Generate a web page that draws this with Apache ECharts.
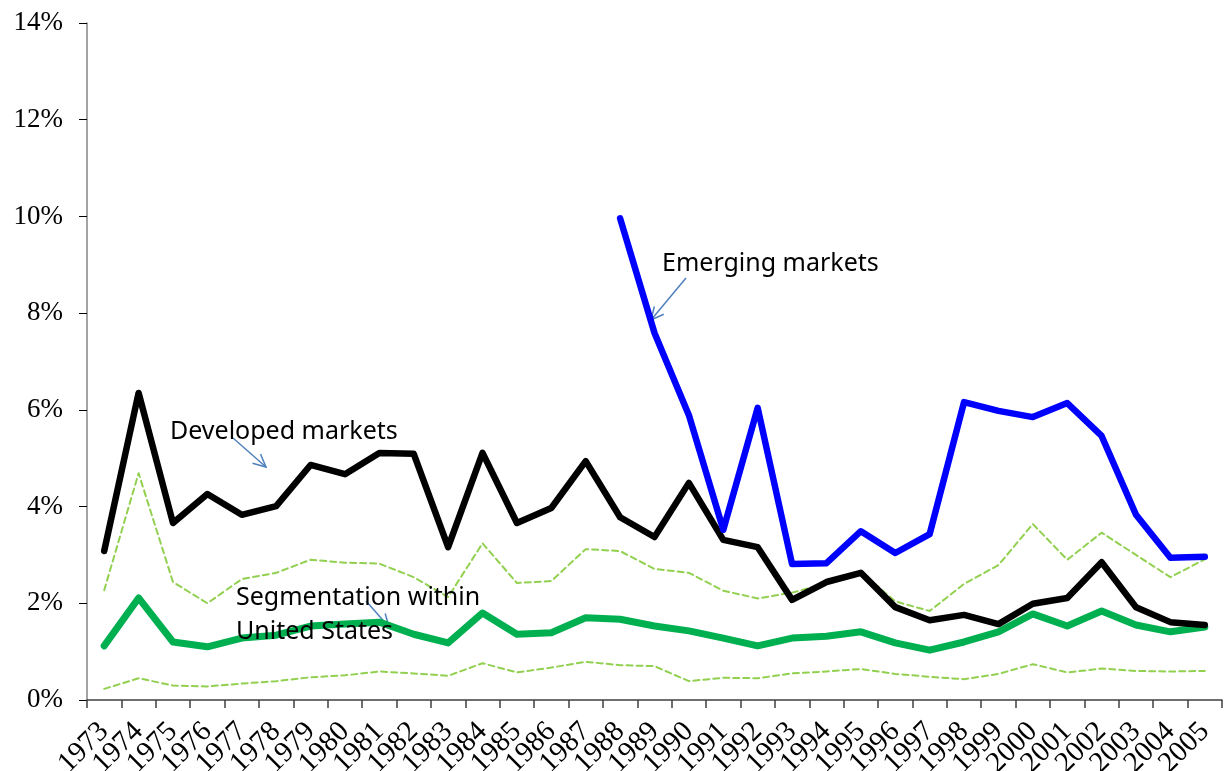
<!DOCTYPE html>
<html>
<head>
<meta charset="utf-8">
<script src="https://cdn.jsdelivr.net/npm/echarts@6/dist/echarts.min.js"></script>
<style>
  html, body { margin: 0; padding: 0; background: #fff; }
  #chart { width: 1224px; height: 771px; }
</style>
</head>
<body>
<div id="chart"></div>
<script>
// years on the x axis
const years = [];
for (let y = 1973; y <= 2005; y++) years.push(String(y));

// values in percent
const developed = [3.08, 6.35, 3.66, 4.26, 3.83, 4.01, 4.86, 4.67, 5.11, 5.09, 3.16,
  5.11, 3.66, 3.97, 4.94, 3.78, 3.37, 4.49, 3.31, 3.16, 2.07, 2.44, 2.63, 1.92,
  1.65, 1.76, 1.57, 1.99, 2.11, 2.85, 1.92, 1.61, 1.55];

const emerging = [null, null, null, null, null, null, null, null, null, null, null,
  null, null, null, null, 9.96, 7.59, 5.89, 3.52, 6.04, 2.81, 2.83, 3.49, 3.04,
  3.43, 6.16, 5.98, 5.85, 6.14, 5.46, 3.83, 2.94, 2.96];

const segmentation = [1.12, 2.11, 1.20, 1.10, 1.28, 1.34, 1.53, 1.57, 1.61, 1.36, 1.18,
  1.80, 1.36, 1.39, 1.70, 1.67, 1.53, 1.43, 1.28, 1.12, 1.28, 1.32, 1.41, 1.18,
  1.03, 1.20, 1.41, 1.78, 1.53, 1.84, 1.55, 1.41, 1.51];

const segUpper = [2.27, 4.69, 2.44, 2.00, 2.50, 2.63, 2.90, 2.84, 2.82, 2.54, 2.13,
  3.24, 2.42, 2.46, 3.12, 3.08, 2.71, 2.63, 2.26, 2.10, 2.22, 2.41, 2.65, 2.04,
  1.84, 2.40, 2.79, 3.64, 2.90, 3.46, 3.00, 2.54, 2.91];

const segLower = [0.23, 0.45, 0.30, 0.28, 0.34, 0.39, 0.47, 0.51, 0.59, 0.55, 0.50,
  0.76, 0.57, 0.67, 0.79, 0.72, 0.70, 0.39, 0.46, 0.45, 0.55, 0.59, 0.64, 0.54,
  0.48, 0.43, 0.54, 0.74, 0.57, 0.65, 0.60, 0.59, 0.60];

const chart = echarts.init(document.getElementById("chart"));

const arrowColor = "#4f81bd";
const noteFont = { fontFamily: "Noto Sans", fontSize: 25, fill: "#000" };

// open arrow: shaft plus two short barbs at the tip
function arrow(x1, y1, x2, y2) {
  const a = Math.atan2(y2 - y1, x2 - x1);
  const len = 14, spread = 0.45;
  return [
    { type: "line", shape: { x1, y1, x2, y2 }, style: { stroke: arrowColor, lineWidth: 1.5 } },
    {
      type: "polyline",
      shape: {
        points: [
          [x2 - len * Math.cos(a - spread), y2 - len * Math.sin(a - spread)],
          [x2, y2],
          [x2 - len * Math.cos(a + spread), y2 - len * Math.sin(a + spread)],
        ],
      },
      style: { stroke: arrowColor, lineWidth: 1.5, fill: null },
    },
  ];
}

function line(name, data, color, width, dashed) {
  return {
    name,
    type: "line",
    data,
    showSymbol: false,
    symbol: "none",
    connectNulls: false,
    lineStyle: {
      color,
      width,
      type: dashed ? [6, 4] : "solid",
      cap: "round",
      join: "round",
    },
    z: dashed ? 2 : 3,
  };
}

chart.setOption({
  animation: false,
  grid: { left: 87, right: 2, top: 23, bottom: 71, outerBoundsMode: "none" },
  xAxis: {
    type: "category",
    data: years,
    boundaryGap: true,
    axisLine: { lineStyle: { color: "#404040", width: 1.5 } },
    axisTick: { show: true, length: 8, lineStyle: { color: "#404040", width: 1.5 } },
    axisLabel: {
      interval: 0,
      rotate: 45,
      margin: 27,
      color: "#000",
      fontFamily: "Liberation Serif",
      fontSize: 29,
    },
  },
  yAxis: {
    type: "value",
    min: 0,
    max: 14,
    interval: 2,
    splitLine: { show: false },
    axisLine: { show: true, lineStyle: { color: "#868686", width: 1.5 } },
    axisTick: { show: true, length: 8, lineStyle: { color: "#000", width: 1 } },
    axisLabel: {
      margin: 24,
      color: "#000",
      fontFamily: "Liberation Serif",
      fontSize: 27,
      formatter: (v) => v + "%",
    },
  },
  series: [
    line("Segmentation upper", segUpper, "#92d050", 2, true),
    line("Segmentation lower", segLower, "#92d050", 2, true),
    line("Segmentation within United States", segmentation, "#00b050", 7, false),
    line("Developed markets", developed, "#000000", 6.5, false),
    line("Emerging markets", emerging, "#0000ff", 6.5, false),
  ],
  graphic: [
    { type: "text", left: 662, top: 251, style: Object.assign({ text: "Emerging markets" }, noteFont), z: 10 },
    ...arrow(686, 278, 651, 320),
    { type: "text", left: 170, top: 419, style: Object.assign({ text: "Developed markets" }, noteFont), z: 10 },
    ...arrow(233, 438, 266, 467),
    { type: "text", left: 236, top: 585, style: Object.assign({ text: "Segmentation within" }, noteFont), z: 10 },
    { type: "text", left: 236, top: 619, style: Object.assign({ text: "United States" }, noteFont), z: 10 },
    ...arrow(366, 601, 389, 627),
  ],
});
</script>
</body>
</html>
